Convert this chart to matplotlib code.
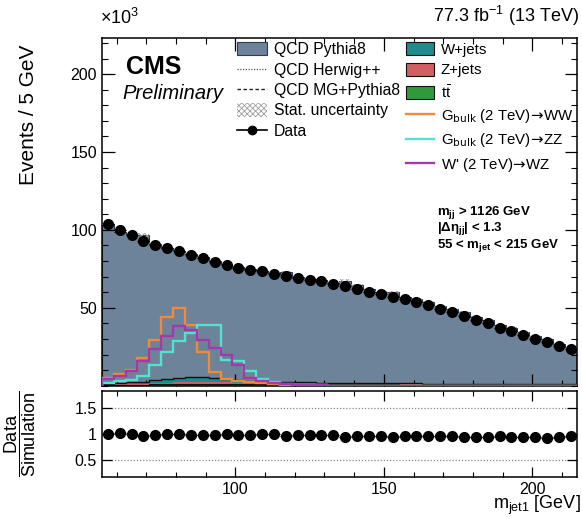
import numpy as np
import matplotlib
matplotlib.use("Agg")
import matplotlib.pyplot as plt
from matplotlib.lines import Line2D
from matplotlib.patches import Patch
from matplotlib.ticker import MultipleLocator, FixedLocator

plt.rcParams['font.family'] = ['Liberation Sans', 'DejaVu Sans']
plt.rcParams['mathtext.fontset'] = 'custom'
plt.rcParams['mathtext.rm'] = 'Liberation Sans'
plt.rcParams['mathtext.it'] = 'Liberation Sans:italic'
plt.rcParams['mathtext.bf'] = 'Liberation Sans:bold'
plt.rcParams['hatch.color'] = '#9a9a9a'
plt.rcParams['hatch.linewidth'] = 0.6

# ---- binning: m_jet1 from 55 to 215 GeV in 4 GeV bins ----
bin_edges = np.arange(55, 216, 4)

# ---- observed events (x10^3) ----
data = [103.7, 99.8, 96.6, 92.9, 90.2, 88.1, 86.3, 83.8, 81.7, 79.5,
        77.4, 75.3, 74.2, 73.4, 71.6, 70.5, 69.2, 67.8, 66.9, 65.4,
        63.9, 62.0, 60.3, 58.6, 57.1, 55.4, 53.4, 51.7, 49.0, 47.0,
        44.9, 42.1, 40.0, 37.2, 35.3, 32.5, 29.7, 27.8, 25.6, 23.5]

# ---- simulated backgrounds (x10^3) ----
qcd_pythia8 = [102.4, 97.1, 94.5, 94.2, 87.7, 83.8, 81.1, 78.9, 76.9, 75.2,
               73.0, 72.5, 71.8, 70.7, 69.1, 70.4, 67.8, 66.4, 65.6, 64.2,
               65.6, 62.9, 60.5, 58.8, 58.5, 55.6, 54.1, 52.5, 49.6, 47.7,
               46.0, 43.0, 40.9, 37.6, 36.1, 33.1, 30.6, 29.2, 25.9, 23.3]
w_jets = [0.6, 0.8, 1.0, 1.3, 1.8, 2.4, 3.0, 3.2, 3.0, 2.5,
          2.0, 1.6, 1.3, 1.1, 1.0, 0.9, 0.8, 0.8, 0.7, 0.7,
          0.6, 0.6, 0.6, 0.5, 0.5, 0.5, 0.5, 0.4, 0.4, 0.4,
          0.4, 0.4, 0.3, 0.3, 0.3, 0.3, 0.3, 0.3, 0.3, 0.2]
z_jets = [0.3, 0.4, 0.5, 0.6, 0.8, 1.0, 1.2, 1.4, 1.5, 1.5,
          1.3, 1.0, 0.8, 0.6, 0.5, 0.5, 0.4, 0.4, 0.4, 0.3,
          0.3, 0.3, 0.3, 0.3, 0.3, 0.3, 0.3, 0.3, 0.3, 0.2,
          0.2, 0.2, 0.2, 0.2, 0.2, 0.2, 0.2, 0.2, 0.2, 0.2]
ttbar = [0.4, 0.5, 0.6, 0.7, 0.8, 0.9, 1.0, 1.1, 1.1, 1.1,
         1.1, 1.0, 1.0, 1.0, 1.0, 0.9, 0.9, 0.9, 0.9, 0.9,
         0.8, 0.8, 0.8, 0.8, 0.8, 0.7, 0.7, 0.7, 0.7, 0.7,
         0.7, 0.7, 0.7, 0.7, 0.6, 0.6, 0.5, 0.5, 0.5, 0.5]
stat_unc = [0.4, 0.4, 0.4, 1.2, 0.4, 0.4, 0.4, 0.4, 0.4, 0.4,
            0.4, 0.4, 0.4, 0.4, 0.4, 0.8, 0.4, 0.4, 0.4, 0.4,
            1.4, 0.4, 0.4, 0.4, 0.5, 0.4, 0.4, 0.4, 0.4, 0.4,
            0.4, 0.4, 0.4, 0.4, 0.4, 0.4, 0.4, 0.4, 0.4, 0.4]

# ---- signal templates (x10^3) ----
gbulk_ww = [4.7, 7.5, 10.0, 17.8, 29.3, 44.2, 49.6, 38.9, 21.5, 8.5,
            4.5, 3.0, 2.2, 1.5, 1.0, 0.7, 0.5, 0.3, 0.2, 0.1,
            0.1, 0.1, 0, 0, 0, 0, 0, 0, 0, 0,
            0, 0, 0, 0, 0, 0, 0, 0, 0, 0]
gbulk_zz = [2.0, 2.8, 3.8, 6.0, 13.0, 21.8, 28.5, 33.5, 38.9, 38.9,
            16.5, 16.0, 9.5, 4.2, 2.2, 1.2, 0.6, 0.3, 0.2, 0.1,
            0.1, 0.1, 0, 0, 0, 0, 0, 0, 0, 0,
            0, 0, 0, 0, 0, 0, 0, 0, 0, 0]
wprime_wz = [4.5, 6.3, 9.5, 16.0, 23.5, 32.0, 38.3, 35.7, 29.3, 24.0,
             19.5, 13.0, 5.2, 2.8, 1.5, 0.8, 0.5, 0.3, 0.2, 0.1,
             0.1, 0.1, 0, 0, 0, 0, 0, 0, 0, 0,
             0, 0, 0, 0, 0, 0, 0, 0, 0, 0]

# ---- styles ----
c_qcd = '#6d8399'
c_w = '#1e8c8c'
c_z = '#d35f62'
c_tt = '#2f9a3c'
c_ww = '#ef8a3a'
c_zz = '#52e2cf'
c_wz = '#a23aab'

edges = bin_edges
centers = 0.5 * (edges[:-1] + edges[1:])
half = 0.5 * np.diff(edges)

data = np.array(data)
top_tt = np.array(ttbar)
top_z = top_tt + np.array(z_jets)
top_w = top_z + np.array(w_jets)
top_qcd = top_w + np.array(qcd_pythia8)
unc = np.array(stat_unc)

fig = plt.figure(figsize=(5.82, 5.17), dpi=100)
ax = fig.add_axes([0.175, 0.254, 0.816, 0.672])
rax = fig.add_axes([0.175, 0.077, 0.816, 0.167])

# stacked backgrounds
ax.stairs(top_qcd, edges, baseline=top_w, fill=True, color=c_qcd, lw=0, zorder=1)
ax.stairs(top_qcd, edges, color='#2d3b4a', lw=0.8, zorder=1.5)
ax.stairs(top_w, edges, baseline=top_z, fill=True, color=c_w, lw=0, zorder=2)
ax.stairs(top_w, edges, color='#111111', lw=1.0, zorder=2.5)
ax.stairs(top_z, edges, baseline=top_tt, fill=True, color=c_z, lw=0, zorder=2)
ax.stairs(top_tt, edges, baseline=0, fill=True, color=c_tt, lw=0, zorder=2)
ax.stairs(top_tt, edges, color='#111111', lw=0.8, zorder=2.5)

# statistical uncertainty band
ax.stairs(top_qcd + unc, edges, baseline=top_qcd - unc, fill=True,
          facecolor='none', edgecolor='#a0a0a0', hatch='xxxxxx', lw=0, zorder=3)

# signals
ax.stairs(gbulk_ww, edges, color=c_ww, lw=1.7, zorder=4)
ax.stairs(gbulk_zz, edges, color=c_zz, lw=1.7, zorder=4)
ax.stairs(wprime_wz, edges, color=c_wz, lw=1.7, zorder=4)

# data
ax.errorbar(centers, data, xerr=half, yerr=np.sqrt(data / 1000.0), fmt='o',
            color='black', ms=7, lw=1.0, capsize=0, zorder=6)

ax.set_xlim(55, 215)
ax.set_ylim(0, 223)
ax.tick_params(axis='both', which='both', direction='in', top=True, right=True,
               labelsize=11.5)
ax.tick_params(which='major', length=9, width=0.9)
ax.tick_params(which='minor', length=4.5, width=0.8)
ax.xaxis.set_major_locator(MultipleLocator(50))
ax.xaxis.set_minor_locator(MultipleLocator(10))
ax.yaxis.set_major_locator(FixedLocator([50, 100, 150, 200]))
ax.yaxis.set_minor_locator(MultipleLocator(10))
ax.tick_params(labelbottom=False)
for s in ax.spines.values():
    s.set_linewidth(1.1)
ax.set_ylabel('Events / 5 GeV', fontsize=15, labelpad=14)
ax.yaxis.set_label_coords(-0.135, 0.78)

fig.text(0.172, 0.945, r'$\times$10$^{3}$', fontsize=13, ha='left', va='bottom')
fig.text(0.995, 0.945, r'77.3 fb$^{-1}$ (13 TeV)', fontsize=13, ha='right', va='bottom')
ax.text(0.05, 0.918, 'CMS', transform=ax.transAxes, fontsize=18, fontweight='bold',
        ha='left', va='center')
ax.text(0.043, 0.842, 'Preliminary', transform=ax.transAxes, fontsize=14.5,
        style='italic', ha='left', va='center')

ax.text(0.705, 0.498, r'$\mathbf{m_{jj}}$ > 1126 GeV', transform=ax.transAxes,
        fontsize=9.5, fontweight='bold', ha='left', va='center')
ax.text(0.705, 0.452, r'$\mathbf{|\Delta\eta_{jj}|}$ < 1.3', transform=ax.transAxes,
        fontsize=9.5, fontweight='bold', ha='left', va='center')
ax.text(0.705, 0.403, r'55 < $\mathbf{m_{jet}}$ < 215 GeV', transform=ax.transAxes,
        fontsize=9.5, fontweight='bold', ha='left', va='center')

# legends
left_handles = [
    Patch(facecolor=c_qcd, edgecolor='#2d3b4a', lw=0.8),
    Line2D([], [], color='#555555', ls=(0, (1, 1.2)), lw=0.9),
    Line2D([], [], color='#222222', ls=(0, (2.5, 1.8)), lw=1.0),
    Patch(facecolor='white', edgecolor='#a0a0a0', hatch='xxxxxx', lw=0),
    Line2D([], [], color='black', marker='o', ms=6, lw=1.2),
]
left_labels = ['QCD Pythia8', 'QCD Herwig++', 'QCD MG+Pythia8',
               'Stat. uncertainty', 'Data']
right_handles = [
    Patch(facecolor=c_w, edgecolor='#111111', lw=0.8),
    Patch(facecolor=c_z, edgecolor='#111111', lw=0.8),
    Patch(facecolor=c_tt, edgecolor='#111111', lw=0.8),
    Line2D([], [], color=c_ww, lw=1.7),
    Line2D([], [], color=c_zz, lw=1.7),
    Line2D([], [], color=c_wz, lw=1.7),
]
arrow = r'$\!\rightarrow\!$'
right_labels = ['W+jets', 'Z+jets', r't$\bar{\mathrm{t}}$',
                r'G$_{\mathrm{bulk}}$ (2 TeV)' + arrow + 'WW',
                r'G$_{\mathrm{bulk}}$ (2 TeV)' + arrow + 'ZZ',
                "W' (2 TeV)" + arrow + 'WZ']

leg_kw = dict(frameon=False, handlelength=1.9, handleheight=0.9,
              handletextpad=0.45, borderpad=0, borderaxespad=0)
leg1 = fig.legend(left_handles, left_labels, loc='upper left', fontsize=11.3,
                  labelspacing=0.34, bbox_to_anchor=(0.407, 0.918), **leg_kw)
leg2 = fig.legend(right_handles, right_labels, loc='upper left', fontsize=10.8,
                  labelspacing=0.42, bbox_to_anchor=(0.697, 0.918), **leg_kw)
# full-size arrows for the signal entries
for t in leg2.get_texts()[3:]:
    t.set_math_fontfamily('dejavusans')

# ratio panel
ratio = data / top_qcd
ratio_err = np.sqrt(data / 1000.0) / top_qcd
rax.axhline(1.5, color='#888888', ls=(0, (1, 1.5)), lw=0.9, zorder=1)
rax.axhline(0.5, color='#888888', ls=(0, (1, 1.5)), lw=0.9, zorder=1)
rax.errorbar(centers, ratio, xerr=half, yerr=ratio_err, fmt='o', color='black',
             ms=7, lw=1.0, capsize=0, zorder=3)
rax.set_xlim(55, 215)
rax.set_ylim(0.17, 1.83)
rax.xaxis.set_major_locator(MultipleLocator(50))
rax.xaxis.set_minor_locator(MultipleLocator(10))
rax.yaxis.set_major_locator(FixedLocator([0.5, 1.0, 1.5]))
rax.set_yticklabels(['0.5', '1', '1.5'])
rax.tick_params(axis='both', which='both', direction='in', top=True, right=True,
                labelsize=11.5)
rax.tick_params(which='major', length=7, width=0.9)
rax.tick_params(which='minor', length=3.5, width=0.8)
for s in rax.spines.values():
    s.set_linewidth(1.1)
rax.set_ylabel(r'$\dfrac{\mathrm{Data}}{\mathrm{Simulation}}$', fontsize=13)
rax.yaxis.set_label_coords(-0.135, 0.5)
fig.text(0.998, 0.016, r'm$_{\mathrm{jet1}}$ [GeV]', fontsize=13,
         ha='right', va='baseline')

fig.savefig('out.png', dpi=100)
